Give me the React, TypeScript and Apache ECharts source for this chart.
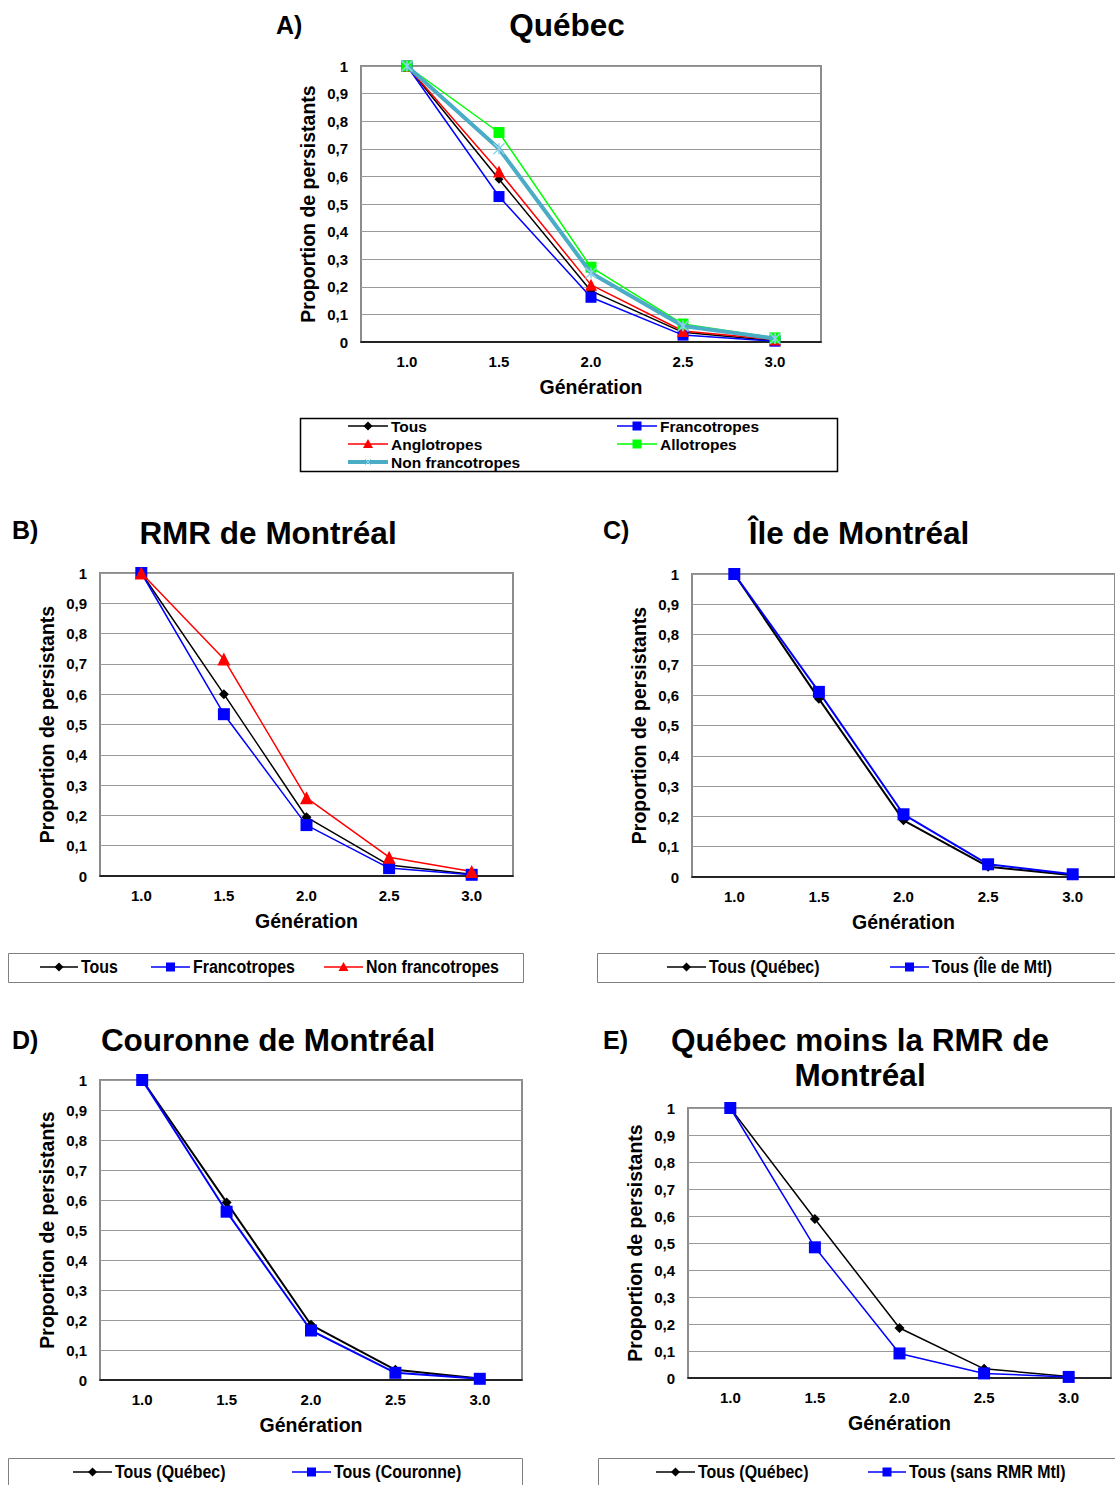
import React, { useEffect, useRef } from "react";
import * as echarts from "echarts";

const categories = ["1.0", "1.5", "2.0", "2.5", "3.0"];

const aTous = [1, 0.59, 0.185, 0.035, 0.005];
const aFranco = [1, 0.527, 0.162, 0.025, 0.003];
const aAnglo = [1, 0.618, 0.207, 0.04, 0.009];
const aAllo = [1, 0.759, 0.271, 0.065, 0.015];
const aNonFranco = [1, 0.7, 0.25, 0.058, 0.013];

const bTous = [1, 0.6, 0.194, 0.036, 0.006];
const bFranco = [1, 0.534, 0.168, 0.026, 0.004];
const bNonFranco = [1, 0.716, 0.258, 0.062, 0.015];

const cTous = [1, 0.588, 0.187, 0.034, 0.006];
const cIle = [1, 0.611, 0.207, 0.042, 0.009];

const dTous = [1, 0.592, 0.184, 0.034, 0.005];
const dCouronne = [1, 0.561, 0.165, 0.024, 0.004];

const eTous = [1, 0.589, 0.185, 0.034, 0.006];
const eSans = [1, 0.484, 0.091, 0.017, 0.004];

const FONT = '"Liberation Sans", Arial, sans-serif';
const BLUE = "#0000ff";
const RED = "#ff0000";
const GREEN = "#00ff00";
const CYAN = "#4bacc6";
const ASTER = "path://M0 0L10 10M10 0L0 10M5 0L5 10";

const grids = [
  { left: 361, top: 66, width: 460, height: 276 },
  { left: 100, top: 573, width: 413, height: 303 },
  { left: 692, top: 574, width: 424, height: 303 },
  { left: 100, top: 1080, width: 422, height: 300 },
  { left: 688, top: 1108, width: 423, height: 270 },
];

function yFmt(v: number) {
  if (v === 0) return "0";
  if (v === 1) return "1";
  return v.toFixed(1).replace(".", ",");
}

function line(name: string, gi: number, data: number[], color: string, symbol: string, size: number, width = 1.5, z = 2) {
  const isAst = symbol === ASTER;
  return {
    type: "line",
    name,
    xAxisIndex: gi,
    yAxisIndex: gi,
    data,
    z,
    symbol,
    symbolSize: size,
    showSymbol: true,
    lineStyle: { color, width },
    itemStyle: isAst
      ? { color: "none", borderColor: "#8fd3e8", borderWidth: 1.5 }
      : { color, borderColor: color, borderWidth: 0 },
  };
}

function legendItem(x1: number, x2: number, y: number, color: string, kind: string, text: string, size: number, sx: number, lw = 1.5) {
  const cx = (x1 + x2) / 2;
  const els: any[] = [
    { type: "line", shape: { x1, y1: y, x2, y2: y }, style: { stroke: color, lineWidth: lw }, silent: true },
  ];
  if (kind === "diamond") {
    els.push({ type: "polygon", shape: { points: [[cx, y - 4.5], [cx + 4.5, y], [cx, y + 4.5], [cx - 4.5, y]] }, style: { fill: color }, silent: true });
  } else if (kind === "square") {
    els.push({ type: "rect", shape: { x: cx - 4.5, y: y - 4.5, width: 9, height: 9 }, style: { fill: color }, silent: true });
  } else if (kind === "triangle") {
    els.push({ type: "polygon", shape: { points: [[cx, y - 5], [cx + 5, y + 4], [cx - 5, y + 4]] }, style: { fill: color }, silent: true });
  } else if (kind === "aster") {
    els.push({ type: "line", shape: { x1: cx - 3, y1: y - 3, x2: cx + 3, y2: y + 3 }, style: { stroke: "#8fd3e8", lineWidth: 1 }, silent: true });
    els.push({ type: "line", shape: { x1: cx - 3, y1: y + 3, x2: cx + 3, y2: y - 3 }, style: { stroke: "#8fd3e8", lineWidth: 1 }, silent: true });
  }
  els.push({
    type: "text",
    x: x2 + 3,
    y,
    scaleX: sx,
    style: { text, fill: "#000", font: `bold ${size}px ${FONT}`, textAlign: "left", textVerticalAlign: "middle" },
    silent: true,
  });
  return els;
}

function txt(x: number, y: number, text: string, size: number, align = "center") {
  return {
    type: "text",
    x,
    y,
    style: { text, fill: "#000", font: `bold ${size}px ${FONT}`, textAlign: align, textVerticalAlign: "middle" },
    silent: true,
  };
}

function box(x: number, y: number, w: number, h: number, stroke: string, lw: number) {
  return { type: "rect", shape: { x, y, width: w, height: h }, style: { fill: "none", stroke, lineWidth: lw }, silent: true };
}

export default function App() {
  const ref = useRef<HTMLDivElement>(null);
  useEffect(() => {
    if (!ref.current) return;
    const chart = echarts.init(ref.current, undefined, { renderer: "svg" });

    const xAxes = grids.map((_, i) => ({
      type: "category",
      gridIndex: i,
      data: categories,
      boundaryGap: true,
      axisLine: { show: true, lineStyle: { color: "#000", width: 1.5 } },
      axisTick: { show: false },
      axisLabel: { color: "#000", fontWeight: "bold", fontSize: 15, fontFamily: FONT, margin: 12 },
      name: "Génération",
      nameLocation: "middle",
      nameGap: 35,
      nameTextStyle: { color: "#000", fontWeight: "bold", fontSize: 19.5, fontFamily: FONT },
    }));
    const yAxes = grids.map((_, i) => ({
      type: "value",
      gridIndex: i,
      min: 0,
      max: 1,
      interval: 0.1,
      axisLine: { show: false },
      axisTick: { show: false },
      splitLine: { show: true, lineStyle: { color: "#999999", width: 1 } },
      axisLabel: { color: "#000", fontWeight: "bold", fontSize: 15, fontFamily: FONT, margin: 13, formatter: yFmt },
      name: "Proportion de persistants",
      nameLocation: "middle",
      nameGap: 43,
      nameTextStyle: { color: "#000", fontWeight: "bold", fontSize: 19.5, fontFamily: FONT },
    }));

    const series = [
      line("Tous", 0, aTous, "#000", "diamond", 9),
      line("Francotropes", 0, aFranco, BLUE, "rect", 11),
      line("Anglotropes", 0, aAnglo, RED, "triangle", 12),
      line("Allotropes", 0, aAllo, GREEN, "rect", 11),
      line("Non francotropes", 0, aNonFranco, CYAN, ASTER, 11, 4, 3),
      line("Tous", 1, bTous, "#000", "diamond", 10),
      line("Francotropes", 1, bFranco, BLUE, "rect", 12),
      line("Non francotropes", 1, bNonFranco, RED, "triangle", 13),
      line("Tous (Québec)", 2, cTous, "#000", "diamond", 10, 2),
      line("Tous (Île de Mtl)", 2, cIle, BLUE, "rect", 12, 2),
      line("Tous (Québec)", 3, dTous, "#000", "diamond", 10, 2),
      line("Tous (Couronne)", 3, dCouronne, BLUE, "rect", 12, 2),
      line("Tous (Québec)", 4, eTous, "#000", "diamond", 10, 1.5),
      line("Tous (sans RMR Mtl)", 4, eSans, BLUE, "rect", 12, 1.5),
    ];

    const NS = 19;
    const NX = 0.84;
    const gfx: any[] = [
      txt(276, 25, "A)", 25, "left"),
      txt(567, 25, "Québec", 31.5),
      txt(12, 530, "B)", 25, "left"),
      txt(268, 533, "RMR de Montréal", 31.5),
      txt(603, 530, "C)", 25, "left"),
      txt(859, 533, "Île de Montréal", 31.5),
      txt(12, 1040, "D)", 25, "left"),
      txt(268, 1040, "Couronne de Montréal", 31.5),
      txt(603, 1040, "E)", 25, "left"),
      txt(860, 1040, "Québec moins la RMR de", 31.5),
      txt(860, 1075, "Montréal", 31.5),
      box(300.5, 418.5, 537, 53, "#000", 1.5),
      ...legendItem(348, 388, 426, "#000", "diamond", "Tous", 15.5, 1),
      ...legendItem(617, 657, 426, BLUE, "square", "Francotropes", 15.5, 1),
      ...legendItem(348, 388, 444, RED, "triangle", "Anglotropes", 15.5, 1),
      ...legendItem(617, 657, 444, GREEN, "square", "Allotropes", 15.5, 1),
      ...legendItem(348, 388, 462, CYAN, "aster", "Non francotropes", 15.5, 1, 4),
      box(8.5, 953.5, 515, 29, "#808080", 1),
      ...legendItem(40, 78, 967, "#000", "diamond", "Tous", NS, NX),
      ...legendItem(151, 190, 967, BLUE, "square", "Francotropes", NS, NX),
      ...legendItem(324, 363, 967, RED, "triangle", "Non francotropes", NS, NX),
      box(597.5, 953.5, 530, 29, "#808080", 1),
      ...legendItem(667, 706, 967, "#000", "diamond", "Tous (Québec)", NS, NX),
      ...legendItem(890, 929, 967, BLUE, "square", "Tous (Île de Mtl)", NS, NX),
      box(8.5, 1458.5, 514, 40, "#808080", 1),
      ...legendItem(73, 112, 1472, "#000", "diamond", "Tous (Québec)", NS, NX),
      ...legendItem(292, 331, 1472, BLUE, "square", "Tous (Couronne)", NS, NX),
      box(598.5, 1458.5, 530, 40, "#808080", 1),
      ...legendItem(656, 695, 1472, "#000", "diamond", "Tous (Québec)", NS, NX),
      ...legendItem(868, 906, 1472, BLUE, "square", "Tous (sans RMR Mtl)", NS, NX),
    ];

    chart.setOption({
      animation: false,
      backgroundColor: "#ffffff",
      grid: grids.map((g) => ({ ...g, show: true, borderColor: "#8c8c8c", borderWidth: 2, backgroundColor: "#ffffff", containLabel: false })),
      xAxis: xAxes,
      yAxis: yAxes,
      series,
      graphic: { elements: gfx },
    });
    return () => chart.dispose();
  }, []);
  return (
    <div style={{ position: "absolute", left: 0, top: 0, width: 1115, height: 1485, background: "#fff" }}>
      <div ref={ref} style={{ width: 1115, height: 1485 }} />
    </div>
  );
}
